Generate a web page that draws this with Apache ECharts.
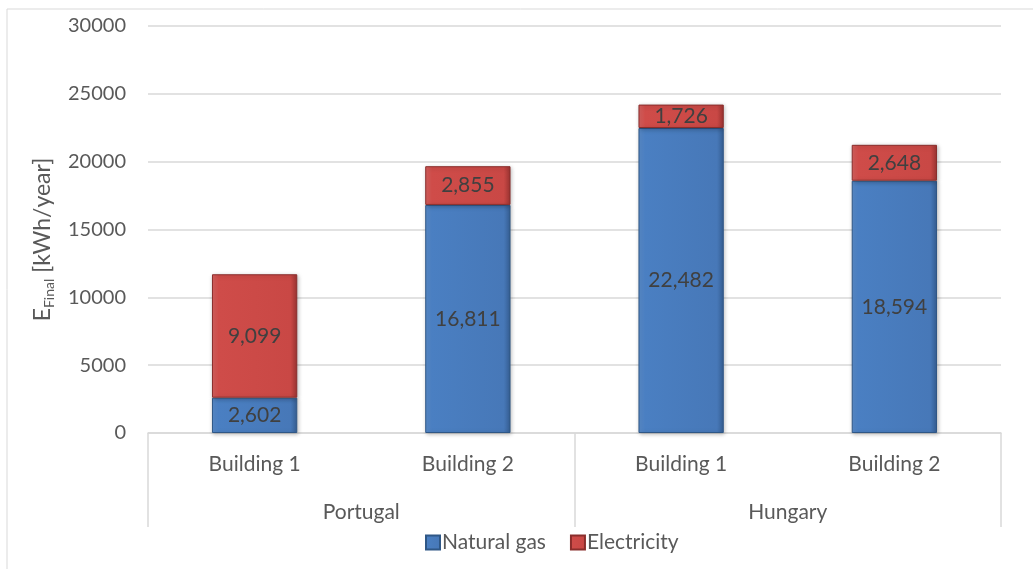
<!DOCTYPE html>
<html>
<head>
<meta charset="utf-8">
<script src="https://cdn.jsdelivr.net/npm/echarts@6/dist/echarts.min.js"></script>
<style>
  html, body { margin: 0; padding: 0; background: #fff; }
  #chart { width: 1033px; height: 569px; }
</style>
</head>
<body>
<div id="chart"></div>
<script>
const buildings = ['Building 1', 'Building 2', 'Building 1', 'Building 2'];
const countries = ['Portugal', 'Hungary'];
const naturalGas = [2602, 16811, 22482, 18594];
const electricity = [9099, 2855, 1726, 2648];
const yTicks = [0, 5000, 10000, 15000, 20000, 25000, 30000];

const font = 'Lato, "Open Sans", sans-serif';
const chart = echarts.init(document.getElementById('chart'));

const fmt = p => p.value.toLocaleString('en-US');

const blueFill = {
    type: 'linear', x: 0, y: 0, x2: 1, y2: 0,
    colorStops: [
        { offset: 0, color: '#5a8dcc' },
        { offset: 0.08, color: '#4a7fc2' },
        { offset: 0.92, color: '#4778b8' },
        { offset: 1, color: '#365f93' }
    ]
};
const redFill = {
    type: 'linear', x: 0, y: 0, x2: 1, y2: 0,
    colorStops: [
        { offset: 0, color: '#d86260' },
        { offset: 0.08, color: '#cf4c49' },
        { offset: 0.92, color: '#c94845' },
        { offset: 1, color: '#9c3432' }
    ]
};

const option = {
    animation: false,
    textStyle: { fontFamily: font },
    graphic: [{
        type: 'rect',
        shape: { x: 7, y: 9, width: 1100, height: 600 },
        style: { fill: 'none', stroke: '#d9d9d9', lineWidth: 1 },
        silent: true
    }],
    grid: { left: 148, right: 32, top: 26, bottom: 136 },
    legend: {
        left: 420,
        top: 527,
        itemWidth: 14,
        itemHeight: 14,
        itemGap: 24,
        icon: 'rect',
        textStyle: { fontSize: 21, color: '#595959', fontFamily: font, padding: [0, 0, 0, -3] },
        data: ['Natural gas', 'Electricity']
    },
    xAxis: [{
        type: 'category',
        data: buildings,
        axisLine: { lineStyle: { color: '#d9d9d9', width: 1.5 } },
        axisTick: { show: false },
        axisLabel: { fontSize: 21, color: '#595959', margin: 21 }
    }, {
        type: 'category',
        data: countries,
        position: 'bottom',
        axisLine: { show: false },
        axisTick: { show: true, length: 94, lineStyle: { color: '#d9d9d9', width: 1.5 } },
        axisLabel: { fontSize: 21, color: '#595959', margin: 69 }
    }],
    yAxis: {
        type: 'value',
        min: 0,
        max: 30000,
        interval: 5000,
        name: '{a|E}{b|Final}{a| [kWh/year]}',
        nameLocation: 'middle',
        nameRotate: 90,
        nameGap: 92,
        nameTextStyle: {
            padding: [0, 20, 0, 0],
            rich: {
                a: { fontSize: 23, color: '#595959', fontFamily: font },
                b: { fontSize: 14, color: '#595959', fontFamily: font, padding: [12, 0, 0, 0] }
            }
        },
        axisLine: { show: false },
        axisTick: { show: false },
        splitLine: { lineStyle: { color: '#d9d9d9', width: 1.5 } },
        axisLabel: {
            fontSize: 20, color: '#595959', margin: 22,
            formatter: v => yTicks.includes(v) ? String(v) : ''
        }
    },
    series: [{
        name: 'Natural gas',
        type: 'bar',
        stack: 'total',
        barWidth: '40%',
        data: naturalGas,
        itemStyle: {
            color: blueFill,
            borderColor: '#2f5786',
            borderWidth: 1,
            shadowBlur: 4,
            shadowColor: 'rgba(0,0,0,0.25)',
            shadowOffsetX: 1,
            shadowOffsetY: 1
        },
        label: {
            show: true, position: 'inside', fontSize: 21, color: '#404040',
            formatter: fmt
        }
    }, {
        name: 'Electricity',
        type: 'bar',
        stack: 'total',
        barWidth: '40%',
        data: electricity,
        itemStyle: {
            color: redFill,
            borderColor: '#8a2e2c',
            borderWidth: 1,
            shadowBlur: 4,
            shadowColor: 'rgba(0,0,0,0.25)',
            shadowOffsetX: 1,
            shadowOffsetY: 1
        },
        label: {
            show: true, position: 'inside', fontSize: 21, color: '#404040',
            formatter: fmt
        }
    }]
};

chart.setOption(option);
</script>
</body>
</html>
